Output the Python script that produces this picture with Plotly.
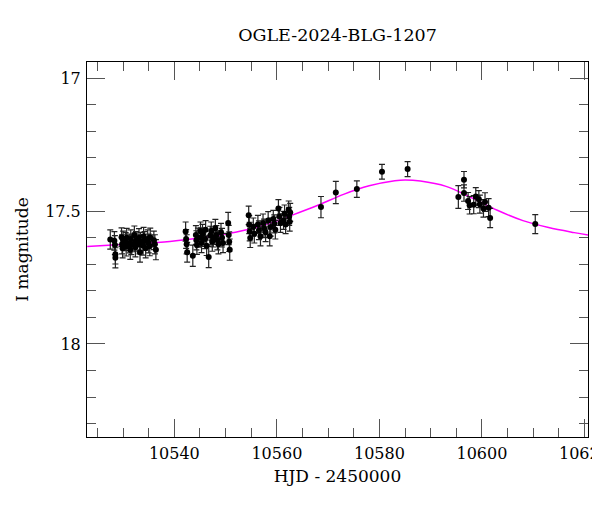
import plotly.graph_objects as go

title_text = "OGLE-2024-BLG-1207"
x_label = "HJD - 2450000"
y_label = "I magnitude"

# Observations (HJD - 2450000, I mag, error)
g1_hjd = [10527.5, 10528.3, 10528.4, 10528.5, 10528.5, 10529.7, 10529.8, 10529.9, 10530.0,
          10530.5, 10530.6, 10530.7, 10531.3, 10531.4, 10531.5, 10531.6, 10532.2, 10532.3,
          10532.4, 10532.5, 10533.1, 10533.2, 10533.3, 10533.4, 10533.9, 10534.0, 10534.2,
          10534.4, 10534.8, 10535.0, 10535.2, 10535.3, 10536.0, 10536.2, 10536.4]
g1_mag = [17.607, 17.612, 17.628, 17.662, 17.676, 17.598, 17.625, 17.640, 17.610,
          17.615, 17.633, 17.600, 17.622, 17.645, 17.605, 17.628, 17.590, 17.618,
          17.636, 17.612, 17.600, 17.625, 17.655, 17.615, 17.630, 17.595, 17.612,
          17.640, 17.605, 17.622, 17.632, 17.598, 17.610, 17.625, 17.645]
g1_err = [0.036, 0.035, 0.036, 0.037, 0.038, 0.035, 0.036, 0.036, 0.035,
          0.034, 0.036, 0.035, 0.035, 0.037, 0.034, 0.036, 0.034, 0.035,
          0.036, 0.035, 0.034, 0.036, 0.037, 0.035, 0.036, 0.034, 0.035,
          0.036, 0.034, 0.035, 0.036, 0.034, 0.035, 0.036, 0.038]

g2_hjd = [10542.2, 10542.3, 10542.4, 10542.5, 10543.6, 10544.2, 10544.3, 10544.4,
          10544.6, 10545.1, 10545.2, 10545.3, 10545.5, 10546.0, 10546.1, 10546.3,
          10546.7, 10547.0, 10547.2, 10547.4, 10547.6, 10548.0, 10548.2, 10548.4,
          10548.6, 10549.1, 10549.3, 10549.5, 10550.5, 10550.6, 10550.7, 10550.8]
g2_mag = [17.577, 17.605, 17.625, 17.655, 17.668, 17.590, 17.610, 17.628,
          17.600, 17.575, 17.598, 17.620, 17.585, 17.605, 17.570, 17.630,
          17.673, 17.592, 17.575, 17.615, 17.600, 17.565, 17.590, 17.610,
          17.625, 17.580, 17.600, 17.620, 17.545, 17.590, 17.615, 17.645]
g2_err = [0.036, 0.035, 0.036, 0.037, 0.040, 0.035, 0.036, 0.035,
          0.036, 0.034, 0.035, 0.036, 0.035, 0.036, 0.034, 0.037,
          0.040, 0.035, 0.034, 0.036, 0.035, 0.034, 0.035, 0.036,
          0.036, 0.034, 0.035, 0.036, 0.040, 0.036, 0.037, 0.040]

g3_hjd = [10554.5, 10554.6, 10554.7, 10554.8, 10555.4, 10555.6, 10556.3, 10556.5,
          10556.8, 10557.3, 10557.5, 10557.8, 10558.3, 10558.6, 10558.8, 10559.3,
          10559.5, 10559.7, 10560.3, 10560.5, 10560.7, 10561.3, 10561.5, 10561.7,
          10562.3, 10562.4, 10562.5, 10562.6]
g3_mag = [17.516, 17.551, 17.577, 17.601, 17.560, 17.585, 17.550, 17.572,
          17.595, 17.545, 17.565, 17.580, 17.535, 17.595, 17.560, 17.530,
          17.548, 17.570, 17.490, 17.520, 17.545, 17.535, 17.510, 17.550,
          17.495, 17.520, 17.540, 17.505]
g3_err = [0.035, 0.034, 0.035, 0.036, 0.034, 0.035, 0.034, 0.035,
          0.036, 0.034, 0.035, 0.035, 0.033, 0.036, 0.034, 0.033,
          0.034, 0.035, 0.033, 0.034, 0.035, 0.034, 0.033, 0.035,
          0.033, 0.034, 0.035, 0.034]

g4_hjd = [10568.6, 10571.5, 10575.6, 10580.5, 10585.5]
g4_mag = [17.485, 17.430, 17.417, 17.352, 17.342]
g4_err = [0.040, 0.042, 0.031, 0.028, 0.028]

g5_hjd = [10595.4, 10596.5, 10596.5, 10597.3, 10597.6, 10598.4, 10598.8, 10599.4,
          10599.6, 10600.3, 10600.6, 10601.3, 10601.6, 10610.4]
g5_mag = [17.447, 17.382, 17.432, 17.462, 17.478, 17.476, 17.445, 17.455,
          17.474, 17.490, 17.466, 17.487, 17.526, 17.549]
g5_err = [0.043, 0.031, 0.031, 0.032, 0.033, 0.034, 0.033, 0.032,
          0.034, 0.033, 0.035, 0.034, 0.036, 0.036]

# Model light curve
model_hjd = [10523, 10528, 10533, 10538, 10543, 10548, 10553, 10558, 10563, 10568, 10573,
             10578, 10583, 10585, 10588, 10593, 10598, 10603, 10608, 10613, 10618, 10621]
model_mag = [17.633, 17.628, 17.622, 17.616, 17.606, 17.593, 17.575, 17.550, 17.515, 17.478,
             17.437, 17.405, 17.386, 17.383, 17.387, 17.407, 17.450, 17.497, 17.536, 17.562,
             17.581, 17.591]

hjd = g1_hjd + g2_hjd + g3_hjd + g4_hjd + g5_hjd
mag = g1_mag + g2_mag + g3_mag + g4_mag + g5_mag
err = g1_err + g2_err + g3_err + g4_err + g5_err

FONT = "DejaVu Serif"

fig = go.Figure()
fig.add_trace(go.Scatter(
    x=model_hjd, y=model_mag, mode="lines",
    line=dict(color="#ff00ff", width=1.5, shape="spline", smoothing=1.0),
    hoverinfo="skip", showlegend=False))
fig.add_trace(go.Scatter(
    x=hjd, y=mag, mode="markers",
    marker=dict(color="black", size=6),
    error_y=dict(type="data", array=err, visible=True, color="#222222",
                 thickness=1.2, width=3),
    showlegend=False))

axis_common = dict(
    showgrid=False, zeroline=False, showline=True, linecolor="black", linewidth=1,
    mirror="allticks", ticks="inside", tickcolor="#555555", tickwidth=1, ticklen=18,
    tickfont=dict(family=FONT, size=16, color="black"), automargin=False,
    ticklabeloverflow="allow",
)

fig.update_layout(
    width=600, height=512,
    margin=dict(l=79, r=20, t=54, b=83),
    paper_bgcolor="white", plot_bgcolor="white",
    font=dict(family=FONT, color="black"),
    title=dict(text=title_text, x=0.5, xref="paper", xanchor="center",
               y=1 - 27 / 512, yref="container",
               yanchor="middle", font=dict(family=FONT, size=17.5, color="black")),
    xaxis=dict(range=[10522.96, 10620.69], tickmode="linear", tick0=10520, dtick=20,
               tickformat="d",
               minor=dict(dtick=5, tick0=10520, ticks="inside", ticklen=9,
                          tickcolor="#555555", tickwidth=1),
               title=dict(text=x_label, font=dict(family=FONT, size=17), standoff=7),
               ticklabelstandoff=2,
               **axis_common),
    yaxis=dict(range=[18.35, 16.939], tickmode="linear", tick0=17, dtick=0.5,
               tickformat="~g",
               minor=dict(dtick=0.1, tick0=17, ticks="inside", ticklen=9,
                          tickcolor="#555555", tickwidth=1),
               title=dict(text=y_label, font=dict(family=FONT, size=17), standoff=12),
               ticklabelstandoff=2,
               **axis_common),
)

fig.write_html("out.html")
